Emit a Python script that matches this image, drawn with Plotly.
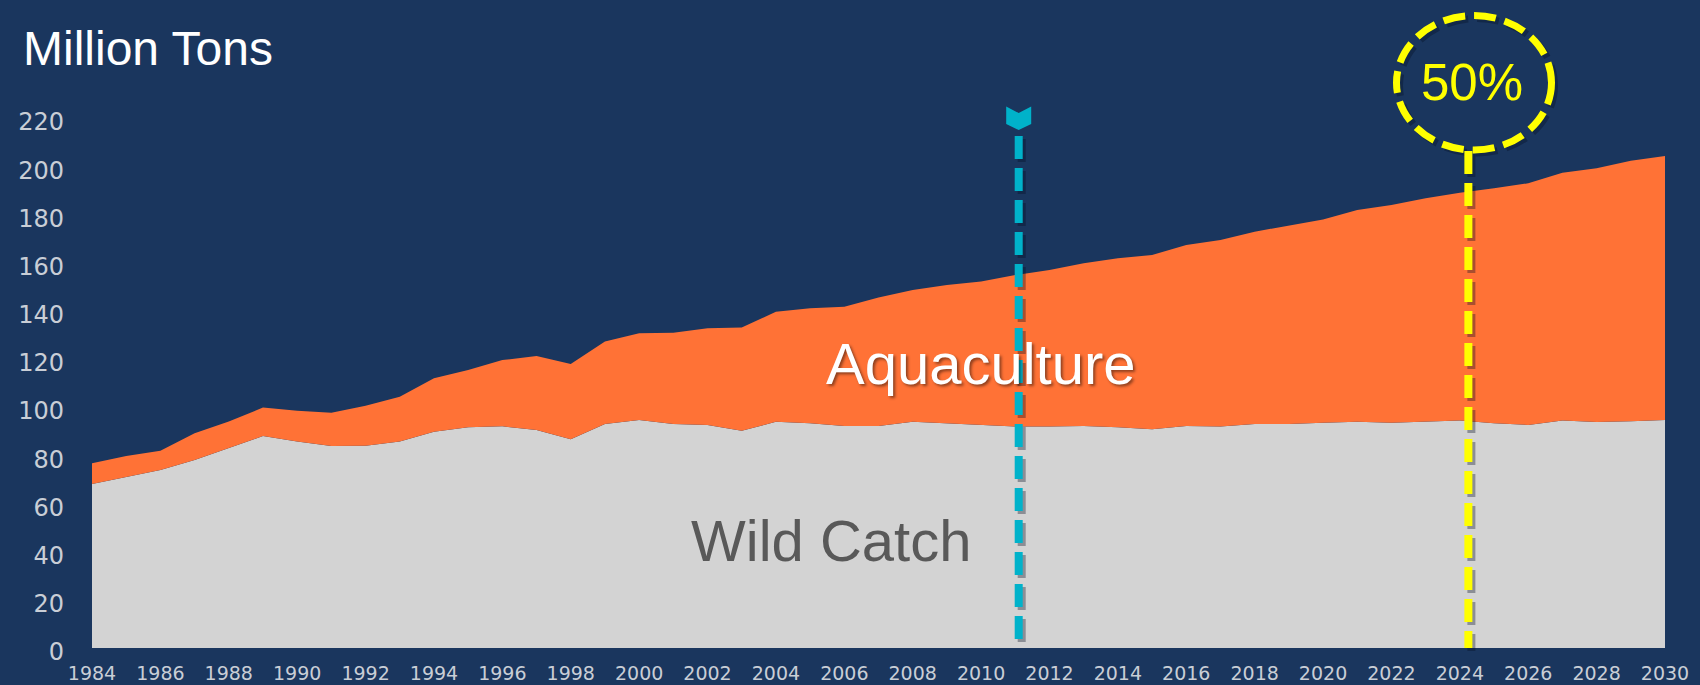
import plotly.graph_objects as go

# ---------------- data ----------------
years = list(range(1984, 2031))
wild_catch = [68.1, 70.9, 73.9, 78.0, 82.9, 88.0, 85.7, 83.9, 84.0, 85.7,
              89.8, 91.6, 92.0, 90.5, 86.6, 93.0, 94.6, 93.0, 92.6, 90.2,
              93.9, 93.3, 92.2, 92.2, 93.9, 93.3, 92.6, 91.9, 91.9, 92.2,
              91.6, 90.8, 92.2, 91.9, 93.0, 93.0, 93.5, 93.9, 93.5, 93.9,
              94.4, 93.3, 92.6, 94.4, 93.8, 94.1, 94.6]
aquaculture = [8.6, 8.8, 8.0, 11.1, 11.1, 11.8, 12.8, 13.8, 16.6, 18.6,
               22.2, 23.8, 27.5, 30.7, 31.3, 34.2, 36.0, 37.9, 40.1, 42.8,
               45.7, 47.7, 49.5, 53.3, 54.7, 57.4, 59.5, 62.9, 65.0, 67.5,
               70.2, 72.3, 75.1, 77.5, 79.8, 82.2, 84.4, 87.9, 90.4, 92.8,
               94.6, 97.5, 100.3, 102.9, 105.3, 108.2, 109.6]
x_ticks = list(range(1984, 2031, 2))
y_ticks = list(range(0, 221, 20))
marker_years = {"cyan": 2011.1, "yellow": 2024.25}

# ---------------- layout geometry ----------------
W, H = 1700, 685
XL, XR = 92, 1665      # pixel of x-range ends
YB, YT = 648, 118      # pixel of y-range ends
X0, X1 = 1984, 2030
Y0, Y1 = 0, 220

def px_x(X):
    return (X - XL) / (XR - XL)

def px_y(Y):
    return (YB - Y) / (YB - YT)

def year_paper(yr):
    return (yr - X0) / (X1 - X0)

BG = "#1A365E"
ORANGE = "#FF7236"
GRAY = "#D3D3D3"
YELLOW = "#FFFF00"
CYAN = "#00B2CA"
TICK = "#C9CED6"
FONT = "Liberation Sans, Arial, sans-serif"

fig = go.Figure()
fig.add_trace(go.Scatter(x=years, y=wild_catch, stackgroup="one", mode="lines",
                         line=dict(width=0, color=GRAY), fillcolor=GRAY,
                         name="Wild Catch", hoverinfo="x+y"))
fig.add_trace(go.Scatter(x=years, y=aquaculture, stackgroup="one", mode="lines",
                         line=dict(width=0, color=ORANGE), fillcolor=ORANGE,
                         name="Aquaculture", hoverinfo="x+y"))

shapes = []
sh_dx = 3 / (XR - XL)
sh_dy = 3 / (YB - YT)
shadow = "rgba(5,15,35,0.35)"

# yellow dashed ellipse (shadow + main)
ex0, ex1, ey0, ey1 = px_x(1396.5), px_x(1551.5), px_y(150), px_y(15.5)
shapes.append(dict(type="circle", xref="paper", yref="paper",
                   x0=ex0 + sh_dx, x1=ex1 + sh_dx, y0=ey0 - sh_dy, y1=ey1 - sh_dy,
                   line=dict(color=shadow, width=7, dash="22px,9px")))
shapes.append(dict(type="circle", xref="paper", yref="paper",
                   x0=ex0, x1=ex1, y0=ey0, y1=ey1,
                   line=dict(color=YELLOW, width=7, dash="22px,9px")))

# vertical dashed lines
for key, color, top in (("cyan", CYAN, 136), ("yellow", YELLOW, 151)):
    xp = year_paper(marker_years[key])
    shapes.append(dict(type="line", xref="paper", yref="paper",
                       x0=xp + sh_dx, x1=xp + sh_dx, y0=px_y(top) - sh_dy, y1=0 - sh_dy,
                       line=dict(color=shadow, width=8, dash="23px,9px")))
    shapes.append(dict(type="line", xref="paper", yref="paper",
                       x0=xp, x1=xp, y0=px_y(top), y1=0,
                       line=dict(color=color, width=8, dash="23px,9px")))

# chevron marker on top of cyan line
cx = year_paper(marker_years["cyan"])
hw = 12.5 / (XR - XL)
pts = [(-hw, 106.5), (0, 113), (hw, 106.5), (hw, 124), (0, 130), (-hw, 124)]
path = "M " + " L ".join(f"{cx + dx:.5f},{px_y(py):.5f}" for dx, py in pts) + " Z"
shapes.append(dict(type="path", xref="paper", yref="paper", path=path,
                   fillcolor=CYAN, line=dict(width=0)))

annotations = [
    dict(text="Million Tons", xref="paper", yref="paper", x=px_x(21), y=px_y(48),
         xanchor="left", yanchor="middle", showarrow=False,
         font=dict(family=FONT, size=48, color="white")),
    dict(text="Aquaculture", xref="x", yref="y", x=2010.0, y=118,
         xanchor="center", yanchor="middle", showarrow=False,
         font=dict(family=FONT, size=58, color="white",
                   shadow="2px 2px 3px rgba(0,0,0,0.45)")),
    dict(text="Wild Catch", xref="x", yref="y", x=2005.6, y=44.5,
         xanchor="center", yanchor="middle", showarrow=False,
         font=dict(family=FONT, size=58, color="#595959")),
    dict(text="50%", xref="paper", yref="paper", x=px_x(1472), y=px_y(83),
         xanchor="center", yanchor="middle", showarrow=False,
         font=dict(family=FONT, size=51, color=YELLOW)),
]

fig.update_layout(
    width=W, height=H, autosize=False,
    margin=dict(l=XL, r=W - XR, t=YT, b=H - YB, pad=0),
    paper_bgcolor=BG, plot_bgcolor=BG,
    showlegend=False,
    shapes=shapes, annotations=annotations,
    xaxis=dict(range=[X0, X1], tickmode="array", tickvals=x_ticks,
               ticktext=[str(t) for t in x_ticks],
               showgrid=False, zeroline=False, showline=False, ticks="",
               tickfont=dict(family="DejaVu Sans", size=19, color=TICK),
               ticklabelstandoff=12, automargin=False, fixedrange=True),
    yaxis=dict(range=[Y0, Y1], tickmode="array", tickvals=y_ticks,
               ticktext=[str(t) for t in y_ticks],
               showgrid=False, zeroline=False, showline=False, ticks="",
               tickfont=dict(family="DejaVu Sans", size=24, color=TICK),
               ticklabelstandoff=27, ticklabelshift=4, automargin=False, fixedrange=True),
)

fig.write_html(
    "out.html",
    config={"displayModeBar": False},
    post_script="document.body.style.margin='0';document.body.style.padding='0';"
                "document.body.style.overflow='hidden';"
                f"document.body.style.background='{BG}';",
)
